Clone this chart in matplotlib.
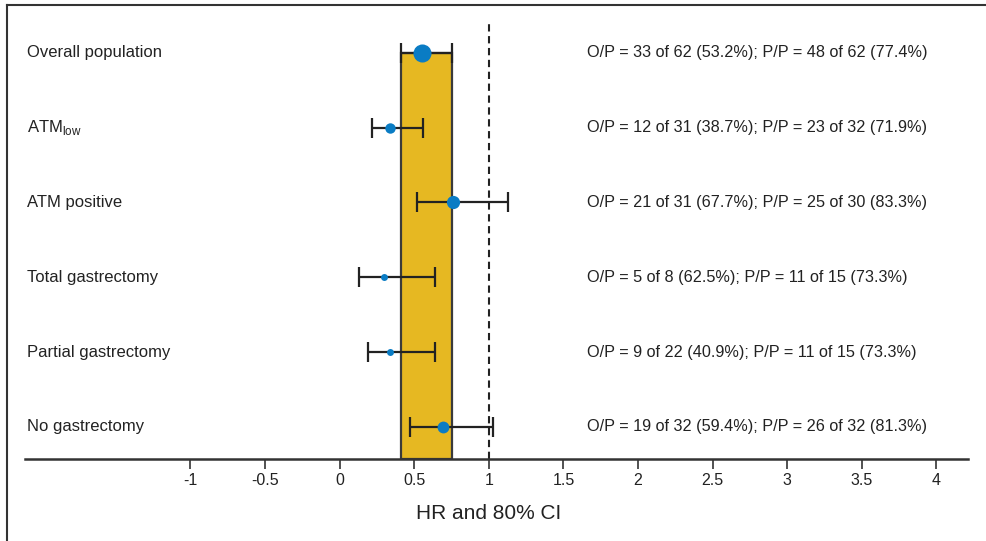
import matplotlib
matplotlib.use("Agg")
import matplotlib.pyplot as plt
from matplotlib.patches import Rectangle
from matplotlib.lines import Line2D

# ---- data ----
labels = ["Overall population", "ATM$_{\\mathregular{low}}$", "ATM positive",
          "Total gastrectomy", "Partial gastrectomy", "No gastrectomy"]
hr = [0.55, 0.34, 0.76, 0.30, 0.34, 0.69]
ci_low = [0.41, 0.22, 0.52, 0.13, 0.19, 0.47]
ci_high = [0.75, 0.56, 1.13, 0.64, 0.64, 1.03]
marker_sizes = [13, 7.5, 9.5, 5, 5, 8.5]
annotations = [
    "O/P = 33 of 62 (53.2%); P/P = 48 of 62 (77.4%)",
    "O/P = 12 of 31 (38.7%); P/P = 23 of 32 (71.9%)",
    "O/P = 21 of 31 (67.7%); P/P = 25 of 30 (83.3%)",
    "O/P = 5 of 8 (62.5%); P/P = 11 of 15 (73.3%)",
    "O/P = 9 of 22 (40.9%); P/P = 11 of 15 (73.3%)",
    "O/P = 19 of 32 (59.4%); P/P = 26 of 32 (81.3%)",
]
xticks = [-1, -0.5, 0, 0.5, 1, 1.5, 2, 2.5, 3, 3.5, 4]
xticklabels = ["-1", "-0.5", "0", "0.5", "1", "1.5", "2", "2.5", "3", "3.5", "4"]
ref_line = 1.0

plt.rcParams['font.family'] = ["Liberation Sans", "DejaVu Sans"]
plt.rcParams['mathtext.fontset'] = 'custom'
plt.rcParams['mathtext.rm'] = 'Liberation Sans'

W, H = 987, 541
fig = plt.figure(figsize=(W/100, H/100), dpi=100)

# frame lines (top and left)
fig.add_artist(Line2D([7/W, 7/W], [0, 1-5/H], color="#333333", lw=1.5, transform=fig.transFigure))
fig.add_artist(Line2D([7/W, 1], [1-5/H, 1-5/H], color="#333333", lw=1.5, transform=fig.transFigure))

ax_left, ax_right = 25, 968
ax_top, ax_bot = 10, 459
ax = fig.add_axes([ax_left/W, 1-ax_bot/H, (ax_right-ax_left)/W, (ax_bot-ax_top)/H])

px_per_unit = 149.2
x0px = 339.6
ax.set_xlim((ax_left-x0px)/px_per_unit, (ax_right-x0px)/px_per_unit)
ypx = 74.86
y_row_top = 52.7
n = len(labels)
ys = list(range(n, 0, -1))
ax.set_ylim(1-(ax_bot-427)/ypx, n+(y_row_top-ax_top)/ypx)

ymin = ax.get_ylim()[0]
# band for overall CI
ax.add_patch(Rectangle((ci_low[0], ymin), ci_high[0]-ci_low[0], ys[0]-ymin,
                       facecolor="#E6B822", edgecolor="#3a3a3a", lw=1.6, zorder=1))
# reference dashed line
ax.plot([ref_line, ref_line], [ymin, n+(y_row_top-22)/ypx], color="#222222", lw=1.5,
        ls=(0, (3.5, 2.2)), zorder=2)

for i in range(n):
    ax.errorbar(hr[i], ys[i], xerr=[[hr[i]-ci_low[i]], [ci_high[i]-hr[i]]],
                fmt='none', ecolor="#222222", elinewidth=1.6, capsize=7, capthick=1.6, zorder=3)
    ax.plot(hr[i], ys[i], 'o', color="#0A7CC4", ms=marker_sizes[i], mec="none", zorder=4)
    ax.text((27-x0px)/px_per_unit, ys[i], labels[i], fontsize=12, va='center', ha='left',
            color="#222222")
    ax.text((587-x0px)/px_per_unit, ys[i], annotations[i], fontsize=11.7, va='center', ha='left',
            color="#222222")

for s in ['top', 'right', 'left']:
    ax.spines[s].set_visible(False)
ax.spines['bottom'].set_linewidth(1.8)
ax.spines['bottom'].set_color("#333333")
ax.set_yticks([])
ax.set_xticks(xticks)
ax.set_xticklabels(xticklabels, fontsize=11.5, color="#222222")
ax.tick_params(axis='x', direction='out', length=7, width=1.2, color="#333333", pad=3)
ax.text(ref_line, -0.122, "HR and 80% CI", transform=ax.get_xaxis_transform(),
        fontsize=15, ha='center', va='center', color="#222222")

fig.savefig("out.png", dpi=100)
